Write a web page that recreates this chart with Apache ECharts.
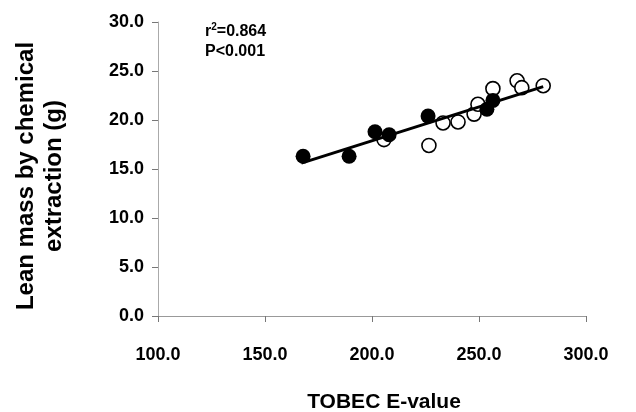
<!DOCTYPE html>
<html>
<head>
<meta charset="utf-8">
<script src="https://cdn.jsdelivr.net/npm/echarts@6/dist/echarts.min.js"></script>
<style>
  html, body { margin: 0; padding: 0; background: #fff; }
  #chart { width: 636px; height: 412px; }
</style>
</head>
<body>
<div id="chart"></div>
<script>
// TOBEC E-value vs lean mass (g)
var filledPoints = [
  [167.8, 16.3], [189.3, 16.3], [201.4, 18.8], [208.0, 18.5],
  [226.2, 20.4], [253.7, 21.1], [256.5, 22.0]
]
var openPoints = [
  [205.6, 18.0], [226.6, 17.4], [233.2, 19.7], [240.2, 19.8],
  [247.7, 20.6], [249.5, 21.6], [256.5, 23.2], [267.8, 24.0],
  [270.0, 23.3], [280.0, 23.5]
]
// regression line ends
var fitLine = [[167.0, 15.6], [280.0, 23.4]]
var xTicks = { min: 100, max: 300, step: 50 }
var yTicks = { min: 0, max: 30, step: 5 }

var font = '"Liberation Sans", Arial, Helvetica, sans-serif'

var chart = echarts.init(document.getElementById('chart'))

var option = {
  animation: false,
  grid: {
    left: 158,
    right: 50,
    top: 22,
    bottom: 96,
    containLabel: false,
    outerBoundsMode: 'none'
  },
  xAxis: {
    type: 'value',
    min: xTicks.min,
    max: xTicks.max,
    interval: xTicks.step,
    name: 'TOBEC E-value',
    nameLocation: 'middle',
    nameGap: 76,
    nameTextStyle: {
      fontFamily: font,
      fontWeight: 'bold',
      fontSize: 21,
      color: '#000',
      padding: [0, 0, 0, 24]
    },
    axisLine: { lineStyle: { color: '#999', width: 1 } },
    axisTick: { show: true, inside: false, length: 6, lineStyle: { color: '#777' } },
    axisLabel: {
      margin: 30,
      fontFamily: font,
      fontWeight: 'bold',
      fontSize: 18,
      color: '#000',
      formatter: function (v) { return v.toFixed(1) }
    },
    splitLine: { show: false }
  },
  yAxis: {
    type: 'value',
    min: yTicks.min,
    max: yTicks.max,
    interval: yTicks.step,
    name: 'Lean mass by chemical\nextraction (g)',
    nameLocation: 'middle',
    nameRotate: 90,
    nameGap: 90,
    nameTextStyle: {
      fontFamily: font,
      fontWeight: 'bold',
      fontSize: 24,
      lineHeight: 28,
      color: '#000',
      padding: [0, 14, 0, 0]
    },
    axisLine: { show: true, lineStyle: { color: '#aaa', width: 1 } },
    axisTick: { show: true, inside: false, length: 6, lineStyle: { color: '#777' } },
    axisLabel: {
      margin: 14,
      fontFamily: font,
      fontWeight: 'bold',
      fontSize: 18,
      color: '#000',
      formatter: function (v) { return v.toFixed(1) }
    },
    splitLine: { show: false }
  },
  graphic: [
    {
      type: 'text',
      left: 205,
      top: 22,
      style: {
        text: '{a|r}{s|2}{a|=0.864}\n{a|P<0.001}',
        rich: {
          a: { fontFamily: font, fontWeight: 'bold', fontSize: 16, lineHeight: 20, fill: '#000' },
          s: { fontFamily: font, fontWeight: 'bold', fontSize: 10, lineHeight: 20, verticalAlign: 'top', fill: '#000', padding: [0, 0, 6, 0] }
        }
      }
    }
  ],
  series: [
    {
      name: 'open',
      type: 'scatter',
      z: 2,
      symbol: 'circle',
      symbolSize: 14,
      itemStyle: { color: '#fff', borderColor: '#000', borderWidth: 1.6, opacity: 1 },
      data: openPoints
    },
    {
      name: 'fit',
      type: 'line',
      z: 3,
      showSymbol: false,
      symbol: 'none',
      lineStyle: { color: '#000', width: 3 },
      data: fitLine
    },
    {
      name: 'filled',
      type: 'scatter',
      z: 4,
      symbol: 'circle',
      symbolSize: 15,
      itemStyle: { color: '#000', opacity: 1 },
      data: filledPoints
    }
  ]
}

chart.setOption(option)
</script>
</body>
</html>
